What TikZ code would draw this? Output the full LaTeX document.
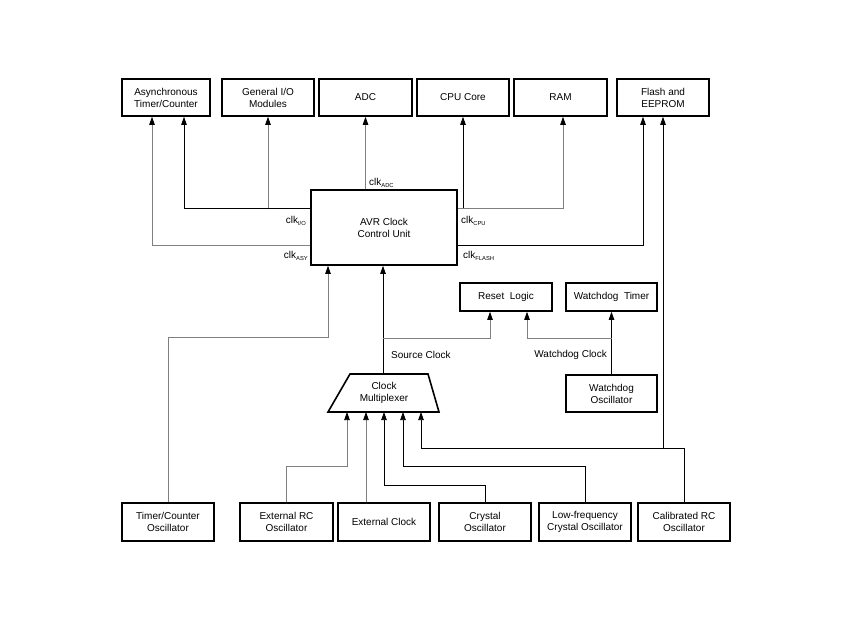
\documentclass[tikz,border=0pt]{standalone}
\usepackage{fontspec}
\setmainfont{Liberation Sans}
\usetikzlibrary{arrows.meta}
\newcommand{\clksub}[1]{clk\raisebox{-0.45ex}{\fontsize{5.8}{6}\selectfont #1}}
\tikzset{
  blk/.style={draw=black, line width=1.6pt, minimum width=92pt, minimum height=37pt, inner sep=0pt, align=center, font=\fontsize{10}{12}\selectfont},
  gl/.style={draw=black!50, line width=0.75pt},
  bl/.style={draw=black, line width=0.75pt},
  arr/.style={-{Triangle[length=8pt,width=5.5pt,color=black]}},
  lbl/.style={font=\fontsize{10}{12}\selectfont, inner sep=0pt},
}
\begin{document}
\begin{tikzpicture}[x=1pt,y=-1pt]
\useasboundingbox (0,0) rectangle (850,638);
% top row
\node[blk, minimum width=88pt] (async) at (166,97.5) {Asynchronous\\Timer/Counter};
\node[blk] (gio) at (268,97.5) {General I/O\\Modules};
\node[blk, minimum width=93pt] (adc) at (365.5,97.5) {ADC};
\node[blk] (cpu) at (463,97.5) {CPU Core};
\node[blk, minimum width=93pt] (ram) at (560.5,97.5) {RAM};
\node[blk] (flash) at (663,97.5) {Flash and\\EEPROM};
% control unit
\node[blk, minimum width=146pt, minimum height=75pt] (avr) at (384,227.5) {AVR Clock\\Control Unit};
% reset / watchdog
\node[blk, minimum height=28pt] (reset) at (506,297) {Reset~~Logic};
\node[blk, minimum width=91pt, minimum height=28pt] (wdt) at (611.5,297) {Watchdog~~Timer};
\node[blk, minimum width=91pt] (wdosc) at (611.5,393.5) {Watchdog\\Oscillator};
% multiplexer
\node[lbl, align=center, minimum width=111pt, minimum height=38pt] (mux) at (384,393) {Clock\\Multiplexer};
\draw[line width=1.6pt, line join=miter] (328,412) -- (350,374) -- (428,374) -- (439,412) -- cycle;
% bottom row
\node[blk, minimum height=38pt] (tco) at (168,522) {Timer/Counter\\Oscillator};
\node[blk, minimum width=93pt, minimum height=38pt] (extrc) at (286.5,522) {External RC\\Oscillator};
\node[blk, minimum height=38pt] (extclk) at (384,522) {External Clock};
\node[blk, minimum height=38pt] (crystal) at (485,522) {Crystal\\Oscillator};
\node[blk, minimum height=38pt] (lowfreq) at (585,522) {Low-frequency\\Crystal Oscillator};
\node[blk, minimum height=38pt] (calrc) at (684,522) {Calibrated RC\\Oscillator};
% clock outputs of AVR unit
\draw[gl,arr] (avr.west |- 0,245) -| (152,0 |- async.south);
\draw[bl,arr] (avr.west |- 0,208) -| (184,0 |- async.south);
\draw[gl,arr] (gio.south |- 0,208) -- (gio.south);
\draw[gl,arr] (adc.south |- avr.north) -- (adc.south);
\draw[gl,arr] (avr.east |- 0,208) -| (563,0 |- ram.south);
\draw[bl,arr] (cpu.south |- 0,208) -- (cpu.south);
\draw[bl,arr] (avr.east |- 0,245) -| (643,0 |- flash.south);
% labels
\node[lbl, anchor=west] (lADC) at (369,183) {\clksub{ADC}};
\node[lbl, anchor=east] (lIO) at (306,221) {\clksub{I/O}};
\node[lbl, anchor=east] (lASY) at (308,256) {\clksub{ASY}};
\node[lbl, anchor=west] (lCPU) at (461,221) {\clksub{CPU}};
\node[lbl, anchor=west] (lFLASH) at (463,256) {\clksub{FLASH}};
\node[lbl, anchor=west] (lsrc) at (391,355) {Source Clock};
\node[lbl, anchor=east] (lwd) at (607,355) {Watchdog Clock};
% inputs to AVR unit
\draw[gl,arr] (tco.north) |- (328,337) -- (328,0 |- avr.south);
\draw[bl,arr] (383,374) -- (383,0 |- avr.south);
\draw[gl,arr] (383,338) -| (490,0 |- reset.south);
\draw[bl,arr] (wdosc.north) -- (wdt.south);
\draw[gl,arr] (wdosc.north |- 0,338) -| (527,0 |- reset.south);
% inputs to multiplexer
\draw[gl,arr] (extrc.north) |- (347,466) -- (347,412);
\draw[gl,arr] (366,0 |- extclk.north) -- (366,412);
\draw[bl,arr] (crystal.north) |- (384,485) -- (384,412);
\draw[bl,arr] (lowfreq.north) |- (403,466) -- (403,412);
\draw[bl,arr] (calrc.north) |- (421,448) -- (421,412);
\coordinate (jflash) at (663,448);
\draw[bl,arr] (jflash) -- (663,0 |- flash.south);
\end{tikzpicture}
\end{document}
